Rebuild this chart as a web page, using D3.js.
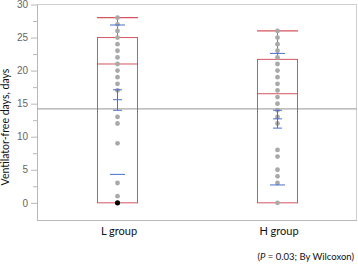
<!DOCTYPE html>
<html><head><meta charset="utf-8">
<script src="https://cdn.jsdelivr.net/npm/d3@7"></script>
<style>body{margin:0;background:#fff;}svg{display:block;}</style>
</head><body>
<script>
const groups = ["L group", "H group"];
const pointsL = [28,27,26,25,24,23,22,21,20,19,18,17,13,12,9,3,1];
const pointsH = [26,25,24,23,22,21,20,19,18,17,16,15,14,13,12,8,7,5,4,3,0];
const blackPoints = [{g:"L group", v:0}];
const boxQ1 = [0, 0];
const boxMedian = [21, 16.5];
const boxQ3 = [25, 21.7];
const whiskerTop = [28, 26];
const means = [15.6, 12.7];
const seLow = [14.0, 11.3];
const seHigh = [17.1, 14.0];
const sdLow = [4.3, 2.7];
const sdHigh = [26.9, 22.6];
const refLine = 14.2;
const yTicks = [0,5,10,15,20,25,30];

const W=358,H=264;
const svg=d3.select("body").append("svg").attr("width",W).attr("height",H);
const y=d3.scaleLinear().domain([-2.6,30]).range([220,4.5]);
const x=d3.scaleBand().domain(groups).range([37,357]);
const cx=g=>x(g)+x.bandwidth()/2;
const red="#d5555f", blue="#4a6fd0", grid="#b8b8b8";

// frame
svg.append("line").attr("x1",37).attr("x2",357).attr("y1",4.5).attr("y2",4.5).attr("stroke","#cfcfcf");
svg.append("line").attr("x1",356.5).attr("x2",356.5).attr("y1",4.5).attr("y2",220).attr("stroke","#cfcfcf");

// y axis
const ya=svg.append("g").attr("transform","translate(37,0)")
  .call(d3.axisLeft(y).tickValues(yTicks).tickSize(6).tickPadding(3));
ya.select(".domain").attr("stroke",grid).attr("d","M0.5,4.5V220.5");
ya.selectAll(".tick line").attr("stroke",grid);
ya.selectAll(".tick text").attr("fill","#666").style("font-family","'Liberation Sans',Arial,sans-serif").style("font-size","10px");
const minor=d3.range(2.5,30,5);
svg.append("g").selectAll("line").data(minor).join("line")
  .attr("x1",33).attr("x2",37).attr("y1",d=>y(d)+0.5).attr("y2",d=>y(d)+0.5).attr("stroke",grid);

// x axis
svg.append("line").attr("x1",37).attr("x2",357).attr("y1",220.5).attr("y2",220.5).attr("stroke",grid);
svg.append("g").selectAll("text").data(groups).join("text")
  .attr("x",d=>cx(d)+2).attr("y",235).attr("text-anchor","middle")
  .style("font-family","Lato,sans-serif").style("font-size","11px").attr("fill","#111").text(d=>d);

// reference line
svg.append("line").attr("x1",37).attr("x2",357).attr("y1",y(refLine)).attr("y2",y(refLine)).attr("stroke","#aaaaaa").attr("stroke-width",1.3);

// boxes
const bw=40;
groups.forEach((g,i)=>{
  const c=cx(g);
  svg.append("rect").attr("x",c-bw/2+0.5).attr("y",y(boxQ3[i])).attr("width",bw).attr("height",y(boxQ1[i])-y(boxQ3[i]))
    .attr("fill","none").attr("stroke",red).attr("stroke-width",1);
  svg.append("line").attr("x1",c-bw/2).attr("x2",c+bw/2+1).attr("y1",y(boxMedian[i])).attr("y2",y(boxMedian[i])).attr("stroke",red);
  svg.append("line").attr("x1",c+0.5).attr("x2",c+0.5).attr("y1",y(boxQ3[i])).attr("y2",y(whiskerTop[i])).attr("stroke",red);
  svg.append("line").attr("x1",c-bw/2).attr("x2",c+bw/2+1).attr("y1",y(whiskerTop[i])).attr("y2",y(whiskerTop[i])).attr("stroke",red).attr("stroke-width",1.2);
});

// points
const pts=[...pointsL.map(v=>({g:"L group",v})),...pointsH.map(v=>({g:"H group",v}))];
svg.append("g").selectAll("circle").data(pts).join("circle")
  .attr("cx",d=>cx(d.g)+0.5).attr("cy",d=>y(d.v)).attr("r",2.4).attr("fill","#a9a9a9");
svg.append("g").selectAll("circle").data(blackPoints).join("circle")
  .attr("cx",d=>cx(d.g)+0.5).attr("cy",d=>y(d.v)).attr("r",2.6).attr("fill","#000");

// mean / SE / SD
groups.forEach((g,i)=>{
  const c=cx(g)+0.5;
  const ln=(v,hw)=>svg.append("line").attr("x1",c-hw).attr("x2",c+hw).attr("y1",y(v)).attr("y2",y(v)).attr("stroke",blue).attr("stroke-width",1);
  svg.append("line").attr("x1",c).attr("x2",c).attr("y1",y(seLow[i])).attr("y2",y(seHigh[i])).attr("stroke",blue);
  ln(seLow[i],4.5); ln(seHigh[i],4.5); ln(means[i],4.5);
  ln(sdLow[i],7.5); ln(sdHigh[i],7.5);
});

// y label
svg.append("text").attr("transform","translate(9,127) rotate(-90)").attr("text-anchor","middle")
  .style("font-family","Lato,sans-serif").style("font-size","10.5px").attr("fill","#111").text("Ventilator-free days, days");

// note
const t=svg.append("text").attr("x",354).attr("y",260).attr("text-anchor","end")
  .style("font-family","Lato,sans-serif").style("font-size","9.5px").attr("fill","#111");
t.append("tspan").text("(");
t.append("tspan").style("font-style","italic").text("P");
t.append("tspan").text(" = 0.03; By Wilcoxon)");
</script>
</body></html>
